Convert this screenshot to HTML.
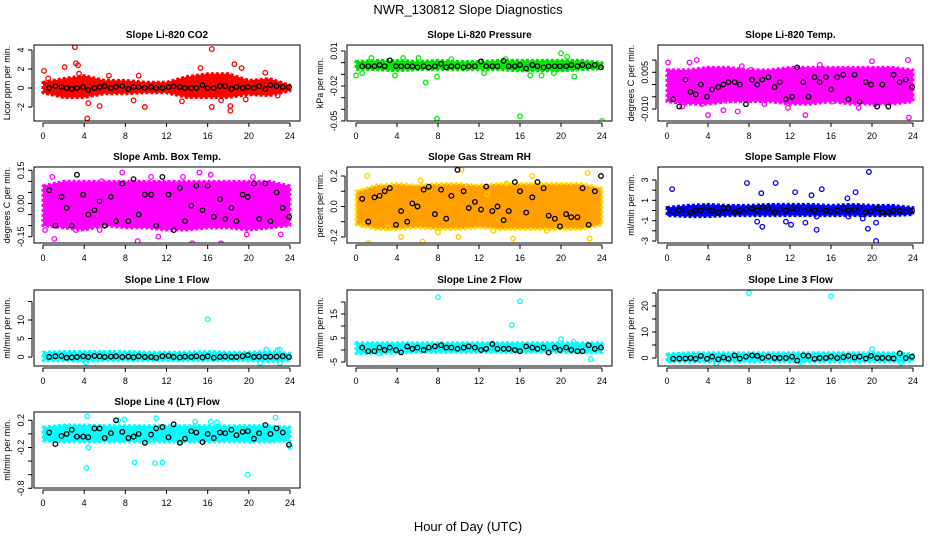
<!DOCTYPE html>
<html><head><meta charset="utf-8">
<style>
html,body{margin:0;padding:0;background:#fff;}
svg{display:block;font-family:"Liberation Sans",sans-serif;}
</style></head>
<body>
<svg id="chart" width="936" height="540" viewBox="0 0 936 540" xmlns="http://www.w3.org/2000/svg">
<text x="468" y="14" text-anchor="middle" font-size="13">NWR_130812  Slope Diagnostics</text>
<text x="468" y="531" text-anchor="middle" font-size="13">Hour of Day (UTC)</text>
</svg>
<script>
const xTicks = [0,4,8,12,16,20,24];
const bandHours = [0,2,4,6,8,10,12,14,16,18,20,22,24];
const blackHours = [0.6,1.2,1.8,2.3,2.8,3.3,3.9,4.4,5.0,5.5,6.0,6.6,7.1,7.7,8.3,8.8,9.3,9.9,10.5,11.0,11.6,12.2,12.7,13.3,13.8,14.4,14.9,15.5,16.0,16.6,17.2,17.7,18.3,18.8,19.4,19.9,20.5,21.0,21.6,22.1,22.7,23.3,23.9];

const co2Lo = [-0.5,-1,-1,-0.6,-0.6,-0.5,-0.5,-1,-1,-1,-0.7,-0.8,-0.3];
const co2Hi = [0.6,1,1.3,0.8,0.8,0.6,0.6,1.2,1.5,1.5,0.8,1,0.3];
const co2Out = [[0.1,1.8],[0.5,1],[2.1,2.2],[3.1,4.3],[3.2,2.6],[3.4,2.4],[3.5,1.5],[4.3,-3.2],[4.4,-1.6],[5.5,-1.9],[9.9,-2],[9.3,1.3],[15.3,2.1],[16.4,4.1],[16.4,-2],[18.2,-2.4],[18.2,-1.9],[18.6,2.5],[19.3,2.1],[21.6,1.6],[8.8,-1.3],[6.4,1.3],[13.5,-1.4],[17.3,-1.3],[19.7,-1.2],[22.8,-0.8]];
const co2Black = [0,0.2,0.1,0,-0.1,0,0.1,-0.2,0,0.1,0.2,0,0.1,0.2,-0.1,0.1,0.1,0,0.1,0,0,0.1,0.2,0.1,0,0,0,0.3,0,0,0.2,0.2,-0.1,0.1,0,0.1,0,0.2,-0.1,0.3,0.2,0.1,0.1];

const presLo = [-0.006,-0.006,-0.007,-0.006,-0.006,-0.006,-0.006,-0.006,-0.007,-0.007,-0.007,-0.006,-0.005];
const presHi = [0.001,0.002,0.002,0.001,0.002,0.001,0.001,0.002,0.002,0.002,0.002,0.002,0.000];
const presOut = [[0,-0.011],[0.6,-0.009],[1.5,0.004],[3.8,-0.011],[6.8,-0.017],[7.9,-0.048],[7.9,-0.012],[9.3,0.003],[14.6,0.003],[16,-0.046],[17,-0.011],[18.1,-0.011],[19.3,-0.009],[20,0.008],[20.6,0.005],[21.3,-0.012],[24,-0.05],[4.6,0.004],[6.1,0.004],[11,-0.004],[12.5,-0.009]];
const presBlack = [-0.003,-0.003,-0.003,-0.002,-0.003,0.002,-0.003,-0.003,-0.003,-0.003,-0.004,-0.003,-0.004,-0.003,-0.001,-0.004,-0.003,-0.003,-0.004,-0.003,-0.003,0.001,-0.003,-0.003,-0.003,0.0015,-0.003,-0.003,-0.002,-0.005,-0.002,-0.003,-0.004,-0.003,-0.003,-0.003,-0.003,-0.002,-0.003,-0.002,-0.003,-0.002,-0.004];

const tempLo = [-0.007,-0.008,-0.008,-0.007,-0.007,-0.007,-0.008,-0.008,-0.007,-0.008,-0.008,-0.008,-0.007];
const tempHi = [0.006,0.006,0.007,0.007,0.006,0.006,0.007,0.007,0.007,0.007,0.007,0.007,0.006];
const tempOut = [[0.1,0.009],[2.2,0.009],[2.9,0.010],[4,-0.0125],[5.5,-0.0105],[6.9,-0.011],[7.3,0.0075],[8.2,0.006],[11.8,-0.0095],[12.5,0.0042],[13.5,-0.0125],[14.9,0.008],[20,0.0095],[23.5,0.010],[23.6,-0.0135],[20.3,-0.008],[18.7,-0.0095],[3.4,-0.008],[9.5,-0.008],[16.1,-0.007],[22.2,0.004],[1.5,-0.009]];
const tempBlack = [-0.006,-0.009,0.002,-0.003,-0.004,0,-0.005,-0.002,-0.001,0,0.001,0.001,0,-0.008,0.002,0,0.002,0.003,-0.001,0.001,-0.006,-0.005,0.007,0.001,-0.005,0.003,0.001,0.003,-0.002,0.003,0.004,-0.006,0.004,-0.007,0.001,0,-0.009,0,-0.009,0.004,0.001,0.002,-0.001];

const ambLo = [-0.1,-0.11,-0.12,-0.1,-0.11,-0.11,-0.12,-0.12,-0.11,-0.11,-0.12,-0.11,-0.1];
const ambHi = [0.08,0.1,0.1,0.1,0.1,0.1,0.1,0.1,0.1,0.1,0.1,0.1,0.08];
const ambOut = [[0.2,-0.12],[0.9,0.12],[1.1,-0.16],[3.2,-0.12],[5.5,-0.12],[7.7,0.14],[9.2,-0.17],[11.2,-0.15],[13.4,-0.22],[13.6,0.12],[15.2,0.14],[14.5,-0.18],[17.3,-0.18],[19.8,-0.14],[21.8,-0.23],[23.1,-0.14],[20.4,0.12],[5.7,0.10],[16.3,0.13],[10.5,0.12]];
const ambBlack = [0.06,-0.1,0.03,-0.02,-0.1,0.13,0.04,-0.05,-0.03,0.01,-0.1,0.03,-0.08,0.09,-0.08,0.11,-0.05,0.04,0.04,-0.1,0.12,0.04,-0.12,0.07,-0.08,-0.01,0.08,-0.03,0.08,-0.06,0.02,-0.07,-0.02,-0.08,0.04,0.03,0.09,-0.07,0.09,-0.08,0.05,-0.02,-0.06];

const rhLo = [-0.12,-0.15,-0.15,-0.14,-0.15,-0.15,-0.14,-0.15,-0.15,-0.15,-0.15,-0.15,-0.12];
const rhHi = [0.1,0.14,0.15,0.14,0.15,0.15,0.14,0.15,0.15,0.15,0.15,0.15,0.12];
const rhOut = [[0.6,-0.12],[1.1,0.2],[1.2,-0.24],[3.1,-0.14],[4.4,-0.2],[6.5,-0.23],[6.3,0.17],[8,-0.17],[10.3,0.24],[10,-0.2],[13.4,-0.16],[14.7,0.15],[15.3,-0.21],[17.2,0.2],[18.6,-0.16],[22.6,0.22],[22.8,-0.21],[12.8,0.08]];
const rhBlack = [0.05,-0.1,0.06,0.07,0.1,0.12,-0.12,-0.03,-0.1,0.02,0.0,0.11,0.13,-0.05,0.11,-0.08,0.07,0.24,0.1,-0.01,0.03,-0.02,0.13,-0.03,0.0,-0.09,-0.03,0.16,0.1,-0.04,0.06,0.16,0.12,-0.06,-0.08,-0.13,-0.05,-0.07,-0.07,0.12,-0.12,0.1,0.2];

const smpLo = [-0.5,-0.6,-0.6,-0.5,-0.5,-0.5,-0.5,-0.5,-0.5,-0.5,-0.5,-0.5,-0.4];
const smpHi = [0.3,0.5,0.6,0.5,0.5,0.6,0.6,0.6,0.5,0.6,0.5,0.5,0.3];
const smpOut = [[0.5,2.1],[7.8,2.7],[10.6,2.7],[9.2,1.7],[8.8,-1.1],[9.3,-1.6],[11.6,-1.1],[12.1,-1.4],[13.5,-1.2],[14.6,-0.6],[14.6,-1.9],[15.1,2.1],[17.6,1.2],[18.4,1.8],[19.7,3.8],[19.6,-1.8],[20.4,-3],[20.4,-1.2],[12.5,1.8],[17.7,-0.6],[19.1,-0.8],[14.1,1.5]];
const smpBlack = [-0.1,0,0.1,-0.2,0,0,0.3,0,-0.2,0.2,0.2,-0.2,0,0.1,0.2,0,0.3,0.2,-0.2,0.1,0,0.2,0.1,0.3,0.1,0,0.1,0,-0.1,0,0.2,0,0.1,0.3,-0.2,-0.1,0.2,-0.2,-0.2,0,0,-0.1,0];

const l1Lo = [-1,-1,-1.2,-1,-1,-1,-1,-1,-1,-1,-1,-1.2,-1];
const l1Hi = [1.3,1.5,1.5,1.5,1.5,1.3,1.3,1.3,1.5,1.3,1.3,1.5,1];
const l1Out = [[8,22],[16,10.2],[4.2,-1.5],[21.1,-1.6],[23,-1.7],[21.7,2],[23,2],[22.8,1.8]];
const l1Black = [0,0.2,0.3,-0.2,-0.1,0,0.2,0,0.3,0.2,0,0.1,0.2,0,0.1,-0.1,0.2,0,0,-0.2,0.2,0.3,0,-0.1,0.1,0,0.2,-0.1,0.2,-0.2,0,0.1,0,0,0.2,0.5,0,0.1,0,0.1,0.1,0.2,0];

const l2Lo = [-1.5,-1.5,-1.2,-1,-1,-1,-1,-1,-1,-1,-1,-1.2,-1];
const l2Hi = [3,3,3,3,3,3,3,3,3,3,3,3,3];
const l2Out = [[8,22],[16,20.3],[15.2,10.4],[20,4.5],[22.9,-3.8],[2.3,-1.5],[21.2,3.5]];
const l2Black = [1,-0.5,-0.5,1,0,1,0,-1,1.5,0.5,1,0,1,1.5,2,1,1,0.5,1,1.5,1,0,0.5,2.5,0.5,0.5,0.5,0,-0.5,1.5,1,0.5,1,-1,1,0,1,0,-0.5,-0.5,2,0.5,1];

const l3Lo = [-1.5,-1.5,-1.5,-1.5,-1.5,-1.5,-1.5,-1.5,-1.5,-1.5,-1.5,-1.5,-1.2];
const l3Hi = [1.5,2,2,2,2,2,2,2,2,2,2,2,1.5];
const l3Out = [[8,25],[16,23.7],[20,3.4],[4.8,-2.2],[13,-1.5],[22.8,-1.7]];
const l3Black = [-0.3,-0.2,-0.2,0,-0.3,0.8,-0.3,0.5,-0.5,0.2,-0.3,1,-0.2,0.5,1,0.8,0,0.5,0,0,0,0.5,-1,1,0.8,-0.3,0,0,0.5,0,0.3,0.8,0.2,0.5,-0.2,0.8,0,0,0,-0.2,1.8,0,0.5];

const l4Lo = [-0.1,-0.12,-0.12,-0.12,-0.12,-0.12,-0.12,-0.12,-0.12,-0.12,-0.12,-0.12,-0.1];
const l4Hi = [0.1,0.13,0.13,0.12,0.12,0.12,0.12,0.12,0.12,0.12,0.12,0.12,0.1];
const l4Out = [[4.2,-0.5],[4.3,0.26],[4.4,-0.2],[7.3,0.2],[7.9,0.21],[8.9,-0.42],[10.9,-0.43],[11.6,-0.42],[11,0.23],[12,-0.87],[16.3,0.18],[16.9,0.17],[19.9,-0.6],[22.6,0.24],[24,-0.19],[14.8,0.18]];
const l4Black = [0.02,-0.15,-0.03,0,0.06,-0.04,-0.04,-0.05,0.08,0.08,-0.06,0.01,0.2,0.03,-0.06,-0.04,0.0,-0.13,-0.01,0.08,0.1,-0.05,0.14,-0.13,-0.07,0.04,0.02,-0.12,0,-0.06,0.02,0.01,0.06,-0.02,0.03,0.04,-0.07,0.01,0.13,0,0.08,0.02,-0.16];

const NS = "http://www.w3.org/2000/svg";
const svg = document.getElementById('chart');
function mk(tag, attrs, parent){
  const e = document.createElementNS(NS, tag);
  for (const k in attrs) e.setAttribute(k, attrs[k]);
  (parent||svg).appendChild(e);
  return e;
}
const cols = [[34,300],[347,612],[658,923]];
const rows = [[45,121],[167,243],[290,366],[412,488]];

const panels = [
 {key:'co2', title:'Slope Li-820 CO2', ylab:'Licor ppm per min.', c:0, r:0, color:'#ff0000', edge:'#ff0000', lo:co2Lo, hi:co2Hi, out:co2Out, blk:co2Black, ref:[[4,50],[-2,107]], ticks:[-2,0,2,4], labels:[-2,0,2,4], fmt:v=>String(v)},
 {key:'pressure', title:'Slope Li-820 Pressure', ylab:'kPa per min.', c:1, r:0, color:'#00ee00', edge:'#00dd00', lo:presLo, hi:presHi, out:presOut, blk:presBlack, ref:[[0.01,51],[-0.05,121]], ticks:[0.01,0,-0.01,-0.02,-0.03,-0.04,-0.05], labels:[0.01,-0.02,-0.05], fmt:v=>v.toFixed(2)},
 {key:'temp', title:'Slope Li-820 Temp.', ylab:'degrees C per min.', c:2, r:0, color:'#ff00ff', edge:'#ff00ff', lo:tempLo, hi:tempHi, out:tempOut, blk:tempBlack, ref:[[0.005,72.3],[-0.010,109]], ticks:[0.010,0.005,0,-0.005,-0.010], labels:[0.005,-0.010], fmt:v=>v.toFixed(3)},
 {key:'amb', title:'Slope Amb. Box Temp.', ylab:'degrees C per min.', c:0, r:1, color:'#ff00ff', edge:'#ff00ff', lo:ambLo, hi:ambHi, out:ambOut, blk:ambBlack, ref:[[0.15,170.3],[-0.15,236.7]], ticks:[0.15,0.10,0.05,0,-0.05,-0.10,-0.15], labels:[0.15,0,-0.15], fmt:v=>v.toFixed(2)},
 {key:'rh', title:'Slope Gas Stream RH', ylab:'percent per min.', c:1, r:1, color:'#ffa000', edge:'#ffdd00', lo:rhLo, hi:rhHi, out:rhOut, blk:rhBlack, ref:[[0.2,176],[-0.2,237]], ticks:[0.2,0.1,0,-0.1,-0.2], labels:[0.2,0,-0.2], fmt:v=>v.toFixed(1)},
 {key:'sample', title:'Slope Sample Flow', ylab:'ml/min per min.', c:2, r:1, color:'#0000ff', edge:'#0000ff', lo:smpLo, hi:smpHi, out:smpOut, blk:smpBlack, ref:[[3,180],[-3,241]], ticks:[3,2,1,0,-1,-2,-3], labels:[3,1,-1,-3], fmt:v=>String(v)},
 {key:'line1', title:'Slope Line 1 Flow', ylab:'ml/min per min.', c:0, r:2, color:'#00ffff', edge:'#00ffff', lo:l1Lo, hi:l1Hi, out:l1Out, blk:l1Black, ref:[[10,320],[0,357]], ticks:[0,5,10,15], labels:[0,5,10], fmt:v=>String(v)},
 {key:'line2', title:'Slope Line 2 Flow', ylab:'ml/min per min.', c:1, r:2, color:'#00ffff', edge:'#00ffff', lo:l2Lo, hi:l2Hi, out:l2Out, blk:l2Black, ref:[[15,314],[-5,362]], ticks:[-5,0,5,10,15,20], labels:[-5,5,15], fmt:v=>String(v)},
 {key:'line3', title:'Slope Line 3 Flow', ylab:'ml/min per min.', c:2, r:2, color:'#00ffff', edge:'#00ffff', lo:l3Lo, hi:l3Hi, out:l3Out, blk:l3Black, ref:[[20,306],[0,358]], ticks:[0,5,10,15,20,25], labels:[0,10,20], fmt:v=>String(v)},
 {key:'line4', title:'Slope Line 4 (LT) Flow', ylab:'ml/min per min.', c:0, r:3, color:'#00ffff', edge:'#00ffff', lo:l4Lo, hi:l4Hi, out:l4Out, blk:l4Black, ref:[[0.2,420.3],[-0.8,488.3]], ticks:[0.2,0,-0.2,-0.4,-0.6,-0.8], labels:[0.2,-0.2,-0.8], fmt:v=>v.toFixed(1)}
];

panels.forEach(p => {
  const [L,R] = cols[p.c], [T,B] = rows[p.r];
  const g = mk('g', {});
  
  
  const xs = h => L + 9 + h * (R - L - 19) / 24;
  const [[v1,y1],[v2,y2]] = p.ref;
  const ys = v => y1 + (v - v1) * (y2 - y1) / (v2 - v1);

  const cid = 'clip-' + p.key;
  const cp = mk('clipPath', {id: cid}, g);
  mk('rect', {x:L, y:T, width:R-L, height:B-T}, cp);
  const plot = mk('g', {'clip-path':'url(#'+cid+')'}, g);

  let pts = bandHours.map((h,i)=>xs(h)+','+ys(p.hi[i]));
  pts = pts.concat(bandHours.slice().reverse().map((h,j)=>{const i=bandHours.length-1-j; return xs(h)+','+ys(p.lo[i]);}));
  const band = mk('polygon', {points: pts.join(' '), fill:p.color, stroke:p.edge, 'stroke-width':3, 'stroke-linejoin':'round', 'stroke-dasharray':'3 2'}, plot);
  
  

  p.out.forEach(([h,v]) => {
    const c = mk('circle', {cx:xs(h), cy:ys(v), r:2.3, fill:'none', stroke:p.key==='rh'?'#ffcc00':p.color, 'stroke-width':1.3}, plot);
    
    
  });
  p.blk.forEach((v,i) => {
    const c = mk('circle', {cx:xs(blackHours[i]), cy:ys(v), r:2.3, fill:'none', stroke:'#000', 'stroke-width':1.3}, plot);
    
    
  });

  const box = mk('rect', {x:L, y:T, width:R-L, height:B-T, fill:'none', stroke:'#000', 'stroke-width':1}, g);
  
  

  const t = mk('text', {x:(L+R)/2, y:T-7, 'text-anchor':'middle', 'font-size':10, 'font-weight':'bold'}, g);
  t.textContent = p.title;
  
  

  const xa = mk('g', {}, g);
  
  
  mk('line', {x1:xs(0), x2:xs(24), y1:B+2, y2:B+2, stroke:'#000'}, xa);
  xTicks.forEach(h => {
    mk('line', {x1:xs(h), x2:xs(h), y1:B+2, y2:B+6, stroke:'#000'}, xa);
    const tl = mk('text', {x:xs(h), y:B+18, 'text-anchor':'middle', 'font-size':9}, xa);
    tl.textContent = h;
    
    
  });

  const ya = mk('g', {}, g);
  
  
  const tv = p.ticks.map(ys);
  mk('line', {x1:L-2, x2:L-2, y1:Math.min(...tv), y2:Math.max(...tv), stroke:'#000'}, ya);
  p.ticks.forEach(v => mk('line', {x1:L-6, x2:L-2, y1:ys(v), y2:ys(v), stroke:'#000'}, ya));
  p.labels.forEach(v => {
    const yy = ys(v);
    const tl = mk('text', {x:0, y:0, 'text-anchor':'middle', 'font-size':9, transform:'translate('+(L-10)+','+yy+') rotate(-90)'}, ya);
    tl.textContent = p.fmt(v);
    
    
  });
  const yl = mk('text', {x:0, y:0, 'text-anchor':'middle', 'font-size':9, transform:'translate('+(L-24)+','+((T+B)/2)+') rotate(-90)'}, g);
  yl.textContent = p.ylab;
  
  
});
</script>
</body></html>
